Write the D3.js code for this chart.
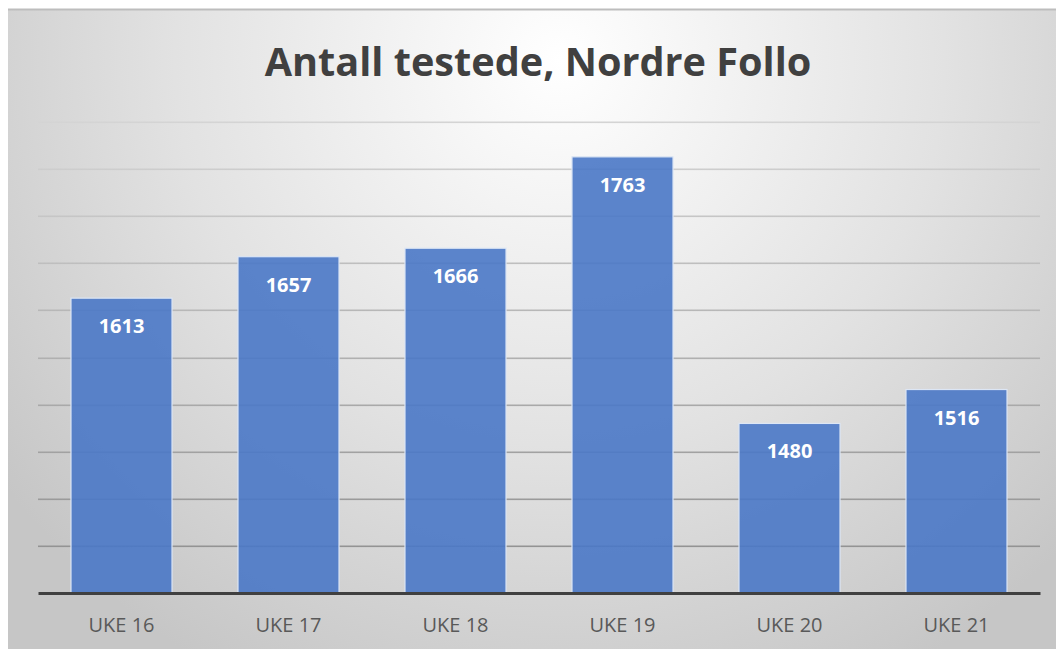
<!DOCTYPE html>
<html>
<head>
	<meta charset="utf-8">
	<title>Antall testede, Nordre Follo</title>
	<script src="https://d3js.org/d3.v7.min.js" charset="utf-8"></script>
	<style>
		body { margin: 0; background: #fff; }
		svg text { font-family: "Open Sans", "Noto Sans", sans-serif; }
	</style>
</head>
<body>
	<script>
	var categories = ["UKE 16", "UKE 17", "UKE 18", "UKE 19", "UKE 20", "UKE 21"];
	var tested = [1613, 1657, 1666, 1763, 1480, 1516];
	var gridTicks = [1300, 1350, 1400, 1450, 1500, 1550, 1600, 1650, 1700, 1750, 1800];
	var title = "Antall testede, Nordre Follo";

	var w = 1056, h = 649;
	var plotLeft = 38, plotRight = 1040, plotTop = 122, plotBottom = 593;

	var svg = d3.select("body").append("svg")
		.attr("width", w)
		.attr("height", h);

	var defs = svg.append("defs");
	var grad = defs.append("radialGradient")
		.attr("id", "bg")
		.attr("gradientUnits", "userSpaceOnUse")
		.attr("cx", 560).attr("cy", 60).attr("r", 700);
	grad.append("stop").attr("offset", "0%").attr("stop-color", "#ffffff");
	grad.append("stop").attr("offset", "55%").attr("stop-color", "#e2e2e2");
	grad.append("stop").attr("offset", "100%").attr("stop-color", "#c6c6c6");

	// gridlines fade from light at the top to darker near the axis
	var gridGrad = defs.append("linearGradient")
		.attr("id", "gridcol")
		.attr("gradientUnits", "userSpaceOnUse")
		.attr("x1", 0).attr("y1", plotTop)
		.attr("x2", 0).attr("y2", plotBottom);
	gridGrad.append("stop").attr("offset", "0%").attr("stop-color", "#d4d4d4");
	gridGrad.append("stop").attr("offset", "100%").attr("stop-color", "#8c8c8c");

	// chart area
	svg.append("rect")
		.attr("x", 8).attr("y", 9)
		.attr("width", w - 8).attr("height", h - 9)
		.attr("fill", "url(#bg)");
	svg.append("line")
		.attr("x1", 8).attr("x2", w)
		.attr("y1", 9.5).attr("y2", 9.5)
		.attr("stroke", "#bdbdbd").attr("stroke-width", 2);

	var x = d3.scaleBand()
		.domain(categories)
		.range([plotLeft, plotRight])
		.paddingInner(0.395)
		.paddingOuter(0.1975);

	var y = d3.scaleLinear()
		.domain([1300, 1800])
		.range([plotBottom, plotTop]);

	// gridlines
	svg.append("g")
		.selectAll("rect")
		.data(gridTicks.slice(1))
		.enter()
		.append("rect")
		.attr("x", plotLeft)
		.attr("y", function(d) { return Math.round(y(d)) - 0.5; })
		.attr("width", plotRight - plotLeft)
		.attr("height", 1.6)
		.attr("fill", "url(#gridcol)");

	// bars
	svg.append("g")
		.selectAll("rect")
		.data(tested)
		.enter()
		.append("rect")
		.attr("x", function(d, i) { return x(categories[i]); })
		.attr("y", function(d) { return y(d); })
		.attr("width", x.bandwidth())
		.attr("height", function(d) { return plotBottom - y(d); })
		.attr("fill", "#4a78c6")
		.attr("fill-opacity", 0.9)
		.attr("stroke", "#dce6f5")
		.attr("stroke-width", 1.2);

	// baseline
	var xAxis = svg.append("g")
		.attr("transform", "translate(0," + plotBottom + ")")
		.call(d3.axisBottom(x).tickSize(0).tickPadding(25));
	xAxis.select(".domain")
		.attr("stroke", "#404040")
		.attr("stroke-width", 3);
	xAxis.selectAll("text")
		.attr("fill", "#595959")
		.style("font-size", "20px");

	// data labels
	svg.append("g")
		.selectAll("text")
		.data(tested)
		.enter()
		.append("text")
		.text(function(d) { return d; })
		.attr("x", function(d, i) { return x(categories[i]) + x.bandwidth() / 2; })
		.attr("y", function(d) { return y(d) + 35; })
		.attr("text-anchor", "middle")
		.attr("fill", "#fff")
		.style("font-size", "20px")
		.style("font-weight", "bold");

	// title
	var t = svg.append("text")
		.text(title)
		.attr("x", 538)
		.attr("y", 76)
		.attr("text-anchor", "middle")
		.attr("fill", "#404040")
		.style("font-size", "38px")
		.style("font-weight", "bold");
	var tw = t.node().getComputedTextLength();
	t.style("font-size", (38 * 547 / tw) + "px");
	</script>
</body>
</html>
